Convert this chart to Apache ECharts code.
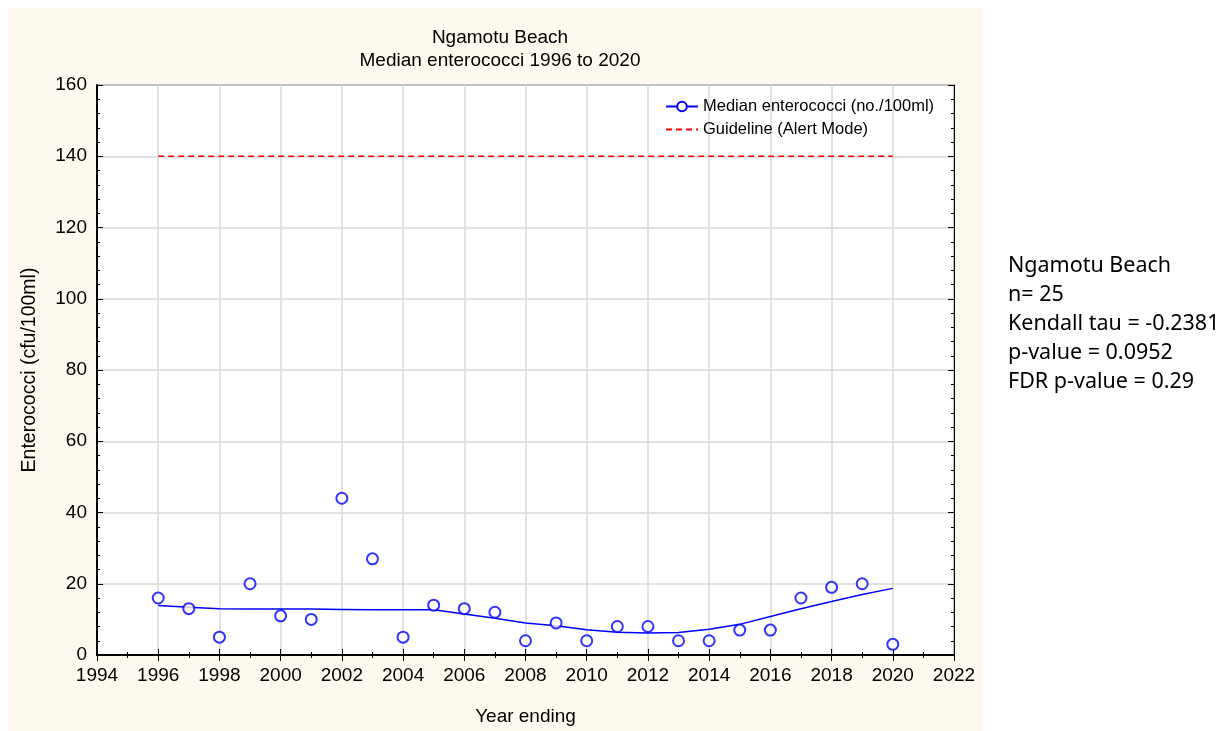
<!DOCTYPE html>
<html>
<head>
<meta charset="utf-8">
<script src="https://cdn.jsdelivr.net/npm/echarts@6/dist/echarts.min.js"></script>
<style>html,body{margin:0;padding:0;background:#fff;}#c{width:1230px;height:731px;}</style>
</head>
<body>
<div id="c"></div>
<script>
const years = [1996,1997,1998,1999,2000,2001,2002,2003,2004,2005,2006,2007,2008,2009,2010,2011,2012,2013,2014,2015,2016,2017,2018,2019,2020];
const medians = [16,13,5,20,11,10,44,27,5,14,13,12,4,9,4,8,8,4,4,7,7,16,19,20,3];
const smoothFit = [13.9,13.4,13.0,12.9,12.9,12.9,12.8,12.7,12.7,12.7,11.5,10.3,9.0,8.2,7.1,6.4,6.2,6.3,7.2,8.6,10.8,13.0,15.0,17.0,18.7];
const guideline = 140;
const guideYears = [1996, 2020];
const statsLines = ['Ngamotu Beach','n= 25','Kendall tau = -0.2381','p-value = 0.0952','FDR p-value = 0.29'];
const titleLines = ['Ngamotu Beach','Median enterococci 1996 to 2020'];

const chart = echarts.init(document.getElementById('c'));
const FONT = 'Liberation Sans';
const axisCommon = {
  axisLine:{show:true,lineStyle:{color:'#000',width:2}},
  axisTick:{show:true,inside:true,length:6,lineStyle:{color:'#000',width:1}},
};
chart.setOption({
  backgroundColor:'#fff',
  animation:false,
  graphic:[
    {type:'rect',left:8,top:8,shape:{width:975,height:723},style:{fill:'#fdf9ef'},z:-10},
    {type:'text',left:1008,top:251,style:{text:statsLines.join('\n'),font:'21.5px "Noto Sans"',lineHeight:29,fill:'#000'}}
  ],
  title:{text:titleLines.join('\n'),left:495,textAlign:'center',top:21,
    textStyle:{fontFamily:FONT,fontSize:19,fontWeight:'normal',color:'#000',lineHeight:23}},
  legend:{orient:'vertical',left:660,top:93,itemGap:6,itemWidth:32,itemHeight:12,
    textStyle:{fontFamily:FONT,fontSize:16.5,color:'#000'},
    data:['Median enterococci (no./100ml)',{name:'Guideline (Alert Mode)',itemStyle:{color:'rgba(0,0,0,0)',borderWidth:0}}]},
  grid:{left:97,right:276,top:85,bottom:75,show:true,backgroundColor:'#fff',borderColor:'#000',borderWidth:1},
  xAxis:[
    Object.assign({type:'value',min:1994,max:2022,interval:2,position:'bottom',
      name:'Year ending',nameLocation:'middle',nameGap:52,
      nameTextStyle:{fontFamily:FONT,fontSize:19,color:'#000'},
      axisLabel:{fontFamily:FONT,fontSize:19,color:'#000',margin:11,formatter:v=>String(v)},
      splitLine:{show:true,lineStyle:{color:'#d9d9d9',width:1.5}}},axisCommon,{minorTick:{show:true,splitNumber:2,length:3,lineStyle:{color:'#000'}}}),
    Object.assign({type:'value',min:1994,max:2022,interval:2,position:'top',
      axisLabel:{show:false},splitLine:{show:false}},axisCommon,{minorTick:{show:true,splitNumber:2,length:3,lineStyle:{color:'#000'}},axisLine:{show:true,lineStyle:{color:'#000',width:1}}})
  ],
  yAxis:[
    Object.assign({type:'value',min:0,max:160,interval:20,position:'left',
      name:'Enterococci (cfu/100ml)',nameLocation:'middle',nameGap:57,
      nameTextStyle:{fontFamily:FONT,fontSize:19.5,color:'#000'},
      axisLabel:{fontFamily:FONT,fontSize:19,color:'#000',margin:10},
      splitLine:{show:true,lineStyle:{color:'#d9d9d9',width:1.5}}},axisCommon,{minorTick:{show:true,splitNumber:5,length:3,lineStyle:{color:'#000'}}}),
    Object.assign({type:'value',min:0,max:160,interval:20,position:'right',
      axisLabel:{show:false},splitLine:{show:false}},axisCommon,{minorTick:{show:true,splitNumber:5,length:3,lineStyle:{color:'#000'}},axisLine:{show:true,lineStyle:{color:'#000',width:1}}})
  ],
  series:[
    {name:'Median enterococci (no./100ml)',type:'line',smooth:false,showSymbol:false,symbol:'emptyCircle',symbolSize:8,
      data:years.map((y,i)=>[y,smoothFit[i]]),lineStyle:{color:'#0000ff',width:1.5},itemStyle:{color:'#0000ff'},z:3},
    {name:'Median enterococci (no./100ml)',type:'scatter',symbol:'emptyCircle',symbolSize:11,
      data:years.map((y,i)=>[y,medians[i]]),itemStyle:{color:'#0000ff',borderWidth:1.7},z:4},
    {name:'Guideline (Alert Mode)',type:'line',showSymbol:false,symbol:'none',
      data:guideYears.map(y=>[y,guideline]),lineStyle:{color:'#ff0000',width:1.5,type:[6,4]},itemStyle:{color:'#ff0000'}}
  ]
});
</script>
</body>
</html>
